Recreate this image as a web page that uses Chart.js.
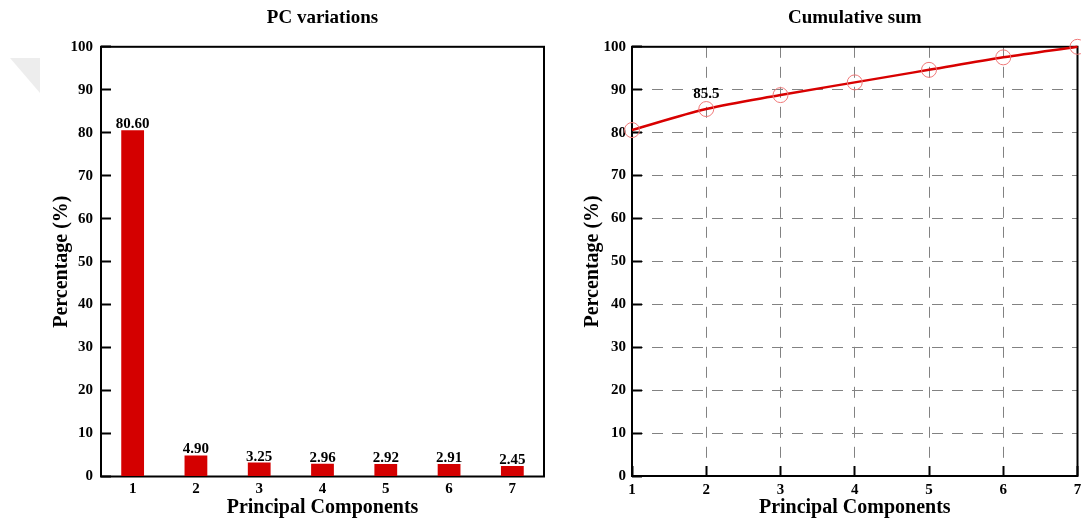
<!DOCTYPE html>
<html>
<head>
<meta charset="utf-8">
<script src="https://cdn.jsdelivr.net/npm/chart.js@4.4.0/dist/chart.umd.min.js"></script>
<style>
  html, body { margin: 0; padding: 0; background: #fff; }
  #wrap { position: relative; width: 1081px; height: 518px; overflow: hidden; }
  .box { position: absolute; top: 0; height: 518px; }
  #left { left: 0; width: 550px; }
  #right { left: 550px; width: 536px; }
  /* faint grey corner mark seen in the source image */
  #mark { position: absolute; left: 10px; top: 58px; width: 30px; height: 35px; background: #ededed;
          clip-path: polygon(0 0, 100% 0, 100% 100%); }
</style>
</head>
<body>
<div id="wrap">
  <div id="mark"></div>
  <div class="box" id="left"><canvas id="pcChart"></canvas></div>
  <div class="box" id="right"><canvas id="cumChart"></canvas></div>
</div>
<script>
const components = ['1', '2', '3', '4', '5', '6', '7'];
const variation = [80.60, 4.90, 3.25, 2.96, 2.92, 2.91, 2.45];
const cumulative = [80.6, 85.5, 88.75, 91.71, 94.63, 97.54, 100];
const yTickValues = [0, 10, 20, 30, 40, 50, 60, 70, 80, 90, 100];
const labelledPoint = 1; // the "85.5" annotation

Chart.defaults.font.family = '"Liberation Serif", "Times New Roman", serif';
Chart.defaults.color = '#000';
Chart.defaults.animation = false;

const tickFont = { size: 15, weight: 'bold' };
const titleFont = { size: 20, weight: 'bold' };

// box round the plot area
const framePlugin = {
  id: 'frame',
  beforeDatasetsDraw(chart) {
    const { ctx, chartArea: a } = chart;
    ctx.save();
    ctx.strokeStyle = '#000';
    ctx.lineWidth = 2;
    ctx.strokeRect(a.left, a.top, a.right - a.left, a.bottom - a.top);
    ctx.restore();
  }
};

const setTicks = scale => { scale.ticks = yTickValues.map(v => ({ value: v })); };

// fixed axis sizes so the plot areas land where the original ones are
const fixX = h => s => { s.height = h; s.paddingLeft = 0; s.paddingRight = 0; };
const fixY = w => s => { s.width = w; s.paddingTop = 0; s.paddingBottom = 0; };

// value labels above the bars
const barLabels = {
  id: 'barLabels',
  afterDatasetsDraw(chart) {
    const { ctx } = chart;
    const meta = chart.getDatasetMeta(0);
    ctx.save();
    ctx.font = 'bold 15px "Liberation Serif"';
    ctx.fillStyle = '#000';
    ctx.textAlign = 'center';
    ctx.textBaseline = 'alphabetic';
    meta.data.forEach((bar, i) => {
      ctx.fillText(variation[i].toFixed(2), bar.x, bar.y - 2);
    });
    ctx.restore();
  }
};

const pointLabel = {
  id: 'pointLabel',
  afterDatasetsDraw(chart) {
    const { ctx } = chart;
    const pt = chart.getDatasetMeta(0).data[labelledPoint];
    ctx.save();
    ctx.font = 'bold 15px "Liberation Serif"';
    ctx.fillStyle = '#000';
    ctx.textAlign = 'center';
    ctx.textBaseline = 'middle';
    ctx.fillText(String(cumulative[labelledPoint]), pt.x, pt.y - 15);
    ctx.restore();
  }
};

new Chart(document.getElementById('pcChart'), {
  type: 'bar',
  data: {
    labels: components,
    datasets: [{
      data: variation,
      backgroundColor: '#d40000',
      barPercentage: 0.36,
      categoryPercentage: 1
    }]
  },
  options: {
    responsive: true,
    maintainAspectRatio: false,
    layout: { padding: { left: 0, right: 6, top: 0, bottom: 0 } },
    plugins: {
      legend: { display: false },
      tooltip: { enabled: false },
      title: {
        display: true, text: 'PC variations', fullSize: false,
        font: { size: 19, weight: 'bold' }, color: '#000',
        padding: { top: 7, bottom: 17 }
      }
    },
    scales: {
      x: {
        grid: { display: false, drawTicks: false },
        border: { display: false },
        ticks: { font: tickFont, padding: 4, maxRotation: 0, autoSkip: false },
        title: { display: true, text: 'Principal Components', font: titleFont, padding: { top: 0, bottom: -2 } },
        afterFit: fixX(41.5)
      },
      y: {
        min: 0, max: 100,
        afterBuildTicks: setTicks,
        grid: { drawOnChartArea: false, drawTicks: true, tickLength: -10, tickColor: '#000', tickWidth: 2 },
        border: { display: false },
        ticks: { font: tickFont, padding: 18 },
        title: { display: true, text: 'Percentage (%)', font: titleFont, padding: { top: 50, bottom: 0 } },
        afterFit: fixY(101)
      }
    }
  },
  plugins: [framePlugin, barLabels]
});

new Chart(document.getElementById('cumChart'), {
  type: 'line',
  data: {
    labels: components,
    datasets: [{
      data: cumulative,
      borderColor: '#d80000',
      borderWidth: 2.5,
      cubicInterpolationMode: 'monotone',
      pointRadius: 7.5,
      pointBorderColor: '#f07878',
      pointBorderWidth: 1,
      pointBackgroundColor: 'rgba(0,0,0,0)',
      clip: false
    }]
  },
  options: {
    responsive: true,
    maintainAspectRatio: false,
    layout: { padding: { left: 0, right: 0, top: 0, bottom: 0 } },
    plugins: {
      legend: { display: false },
      tooltip: { enabled: false },
      title: {
        display: true, text: 'Cumulative sum', fullSize: false,
        font: { size: 19, weight: 'bold' }, color: '#000',
        padding: { top: 7, bottom: 17 }
      }
    },
    scales: {
      x: {
        grid: { color: '#828282', lineWidth: 1, tickLength: -10, tickColor: '#000', tickWidth: 2, tickBorderDash: [] },
        border: { display: false, dash: [11, 9] },
        ticks: { font: tickFont, padding: 15, maxRotation: 0, autoSkip: false },
        title: { display: true, text: 'Principal Components', font: titleFont, padding: { top: 0, bottom: -2 } },
        afterFit: fixX(42)
      },
      y: {
        min: 0, max: 100,
        afterBuildTicks: setTicks,
        grid: { color: '#828282', lineWidth: 1, tickLength: -10, tickColor: '#000', tickWidth: 2, tickBorderDash: [] },
        border: { display: false, dash: [11, 9] },
        ticks: { font: tickFont, padding: 16 },
        title: { display: true, text: 'Percentage (%)', font: titleFont, padding: { top: 31, bottom: 0 } },
        afterFit: fixY(82)
      }
    }
  },
  plugins: [framePlugin, pointLabel]
});
</script>
</body>
</html>
